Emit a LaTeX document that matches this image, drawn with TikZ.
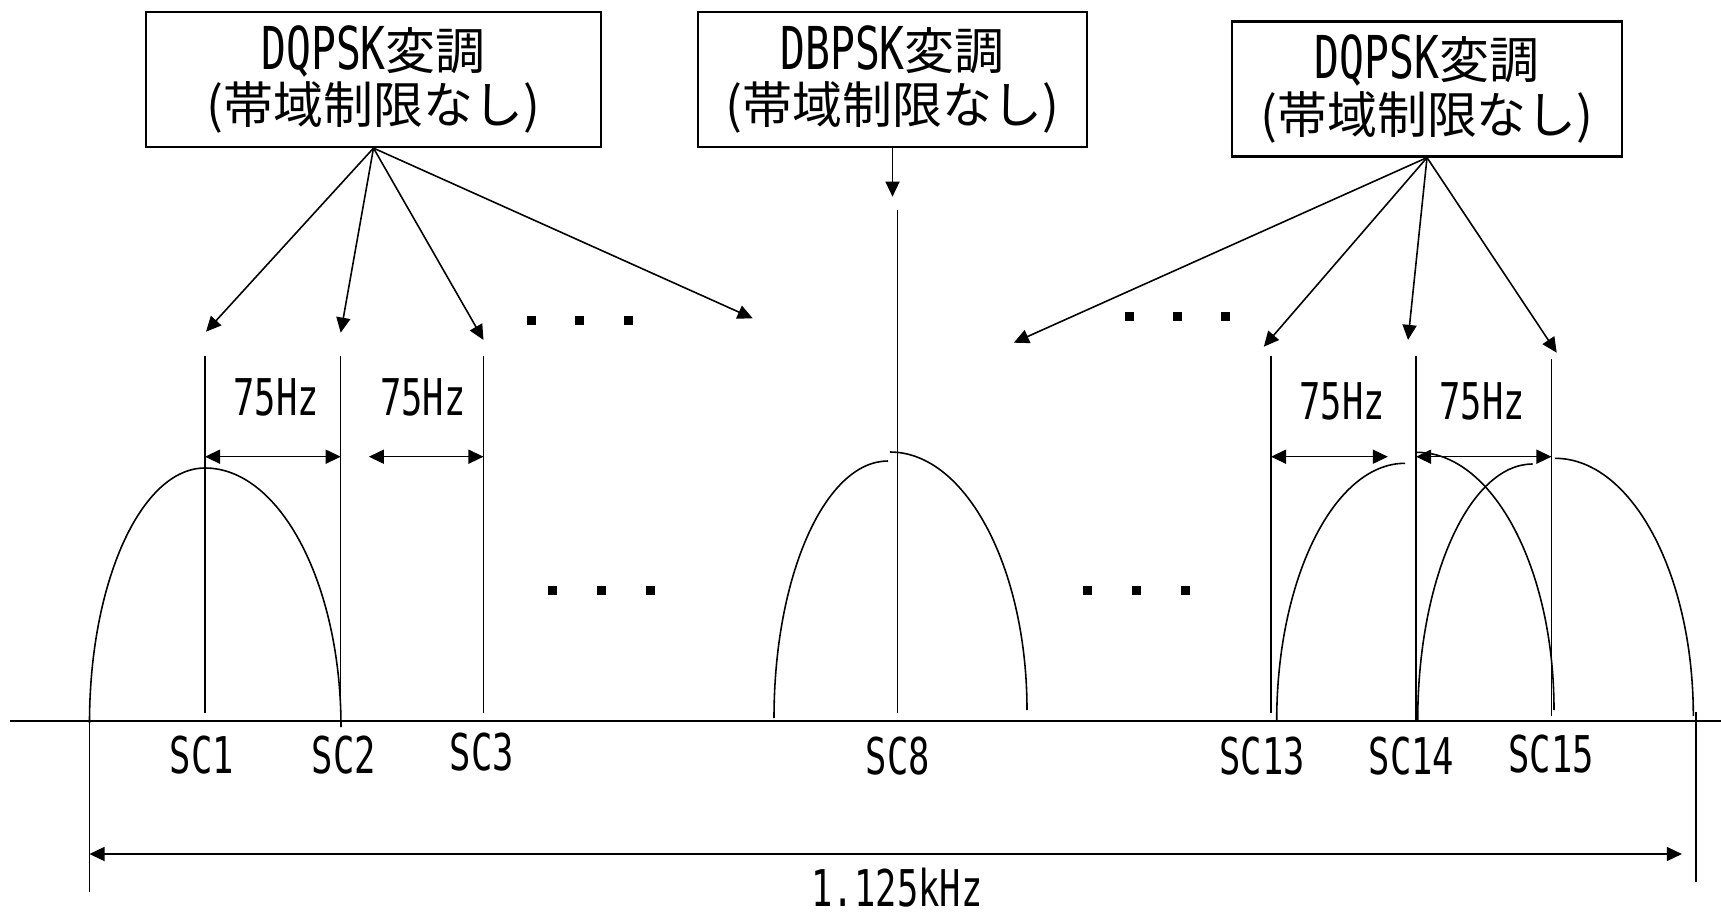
\documentclass[tikz,border=0pt]{standalone}
\usepackage{fontspec}
\usetikzlibrary{positioning, calc, arrows.meta}
\newfontfamily\jpfont{Noto Sans CJK JP}
\newfontfamily\latfont[FakeStretch=0.7]{DejaVu Sans Mono}
\newcommand{\boxlat}[1]{{\latfont\fontsize{16.8}{15.6}\selectfont #1}}

\begin{document}
\begin{tikzpicture}[x=0.01cm, y=0.01cm, >={Triangle[length=4.3pt, width=4pt]}, line width=0.45pt]
\tikzset{
  modbox/.style={draw, line width=0.6pt, align=center, inner sep=0pt, minimum height=13.5mm, font=\fontsize{14.2}{15.6}\selectfont\jpfont},
  lbl/.style={inner sep=0pt, font=\fontsize{14.4}{16}\selectfont\latfont}
}
\useasboundingbox (0,0) rectangle (1721,914);

% modulation boxes
\node[modbox, minimum width=45.5mm] (mq1) at (373.5,834.5) {\boxlat{DQPSK}変調\\(帯域制限なし)};
\node[modbox, minimum width=38.9mm] (mb)  at (892.5,834.5) {\boxlat{DBPSK}変調\\(帯域制限なし)};
\node[modbox, minimum width=38.9mm] (mq2) at (1427,825)    {\boxlat{DQPSK}変調\\(帯域制限なし)};

% arrow targets
\coordinate (t1) at (206,582.3);
\coordinate (t2) at (340.7,581.3);
\coordinate (t3) at (483.5,574);
\coordinate (t4) at (752.7,595.7);
\coordinate (t8) at (892.5,717.3);
\coordinate (u1) at (1013.8,571.3);
\coordinate (u2) at (1263.8,567.3);
\coordinate (u3) at (1408,574);
\coordinate (u4) at (1556.7,561.3);

\draw[->] (mq1.south) -- (t1);
\draw[->] (mq1.south) -- (t2);
\draw[->] (mq1.south) -- (t3);
\draw[->] (mq1.south) -- (t4);
\draw[->] (mb.south) -- (t8);
\draw[->] (mq2.south) -- (u1);
\draw[->] (mq2.south) -- (u2);
\draw[->] (mq2.south) -- (u3);
\draw[->] (mq2.south) -- (u4);

% sub-carrier lines
\coordinate (c1t)  at (205,558);    \coordinate (c1b)  at (205,201);
\coordinate (c2t)  at (340.7,558);  \coordinate (c2b)  at (340.7,187);
\coordinate (c3t)  at (483.5,558);  \coordinate (c3b)  at (483.5,201);
\coordinate (c8t)  at (897.5,704);  \coordinate (c8b)  at (897.5,201);
\coordinate (c13t) at (1271,558);   \coordinate (c13b) at (1271,201);
\coordinate (c14t) at (1416,558);   \coordinate (c14b) at (1416,192);
\coordinate (c15t) at (1551.5,555); \coordinate (c15b) at (1551.5,198);

\draw (c1t) -- (c1b);
\draw (c2t) -- (c2b);
\draw (c3t) -- (c3b);
\draw (c8t) -- (c8b);
\draw (c13t) -- (c13b);
\draw (c14t) -- (c14b);
\draw (c15t) -- (c15b);

% spacing 75Hz
\coordinate (dim) at (0,457.3);
\draw[<->] (c1t |- dim) -- (c2t |- dim);
\draw[<->] ([xshift=8]c2t |- dim) -- (c3t |- dim);
\draw[<->] (c13t |- dim) -- ([xshift=-8]c14t |- dim);
\draw[<->] (c14t |- dim) -- (c15t |- dim);
\node[lbl] (f1) at (276,517) {75Hz};
\node[lbl] (f2) at (423,517) {75Hz};
\node[lbl] (f3) at (1342,513) {75Hz};
\node[lbl] (f4) at (1482,513) {75Hz};

% lobes
\draw (89.5,191) arc[start angle=180, end angle=90, x radius=115.5, y radius=255]
                 arc[start angle=90, end angle=0, x radius=136, y radius=259];
\draw (774,196) arc[start angle=180, end angle=90, x radius=114, y radius=257];
\draw (890,462) arc[start angle=90, end angle=0, x radius=137, y radius=258];
\draw (1276.7,193) arc[start angle=180, end angle=90, x radius=128.3, y radius=257.7];
\draw (1416.7,461.7) arc[start angle=90, end angle=0, x radius=137.3, y radius=257.7];
\draw (1417.7,193) arc[start angle=180, end angle=90, x radius=115, y radius=257];
\draw (1555,455.7) arc[start angle=90, end angle=0, x radius=138.3, y radius=257.7];

% dots
\foreach \x in {531,579,628} \fill (\x-4.5,589.5) rectangle ++(9,9);
\foreach \x in {1129,1177.6,1225} \fill (\x-4.5,592.8) rectangle ++(9,9);
\foreach \x in {552,601.6,650} \fill (\x-4.5,319.5) rectangle ++(9,9);
\foreach \x in {1087,1136,1185} \fill (\x-4.5,319.5) rectangle ++(9,9);

% frequency axis
\coordinate (ax0) at (10,193);
\coordinate (ax1) at (1721,193);
\draw[line width=0.6pt] (ax0) -- (ax1);

\node[lbl] (sc1)  at (202,159)   {SC1};
\node[lbl] (sc2)  at (344,159)   {SC2};
\node[lbl] (sc3)  at (482,161.5) {SC3};
\node[lbl] (sc8)  at (898,158)   {SC8};
\node[lbl] (sc13) at (1262,158)  {SC13};
\node[lbl] (sc14) at (1411.6,158) {SC14};
\node[lbl] (sc15) at (1551,160)  {SC15};

% total band
\coordinate (bl)  at (89.5,191);  \coordinate (bl2) at (89.5,22);
\coordinate (br)  at (1696,202);  \coordinate (br2) at (1696,32);
\draw (bl) -- (bl2);
\draw (br) -- (br2);
\coordinate (span) at (0,60);
\draw[<->] (bl |- span) -- ([xshift=-4]br |- span);
\node[lbl] (bw) at (897,26) {1.125kHz};

\end{tikzpicture}
\end{document}
